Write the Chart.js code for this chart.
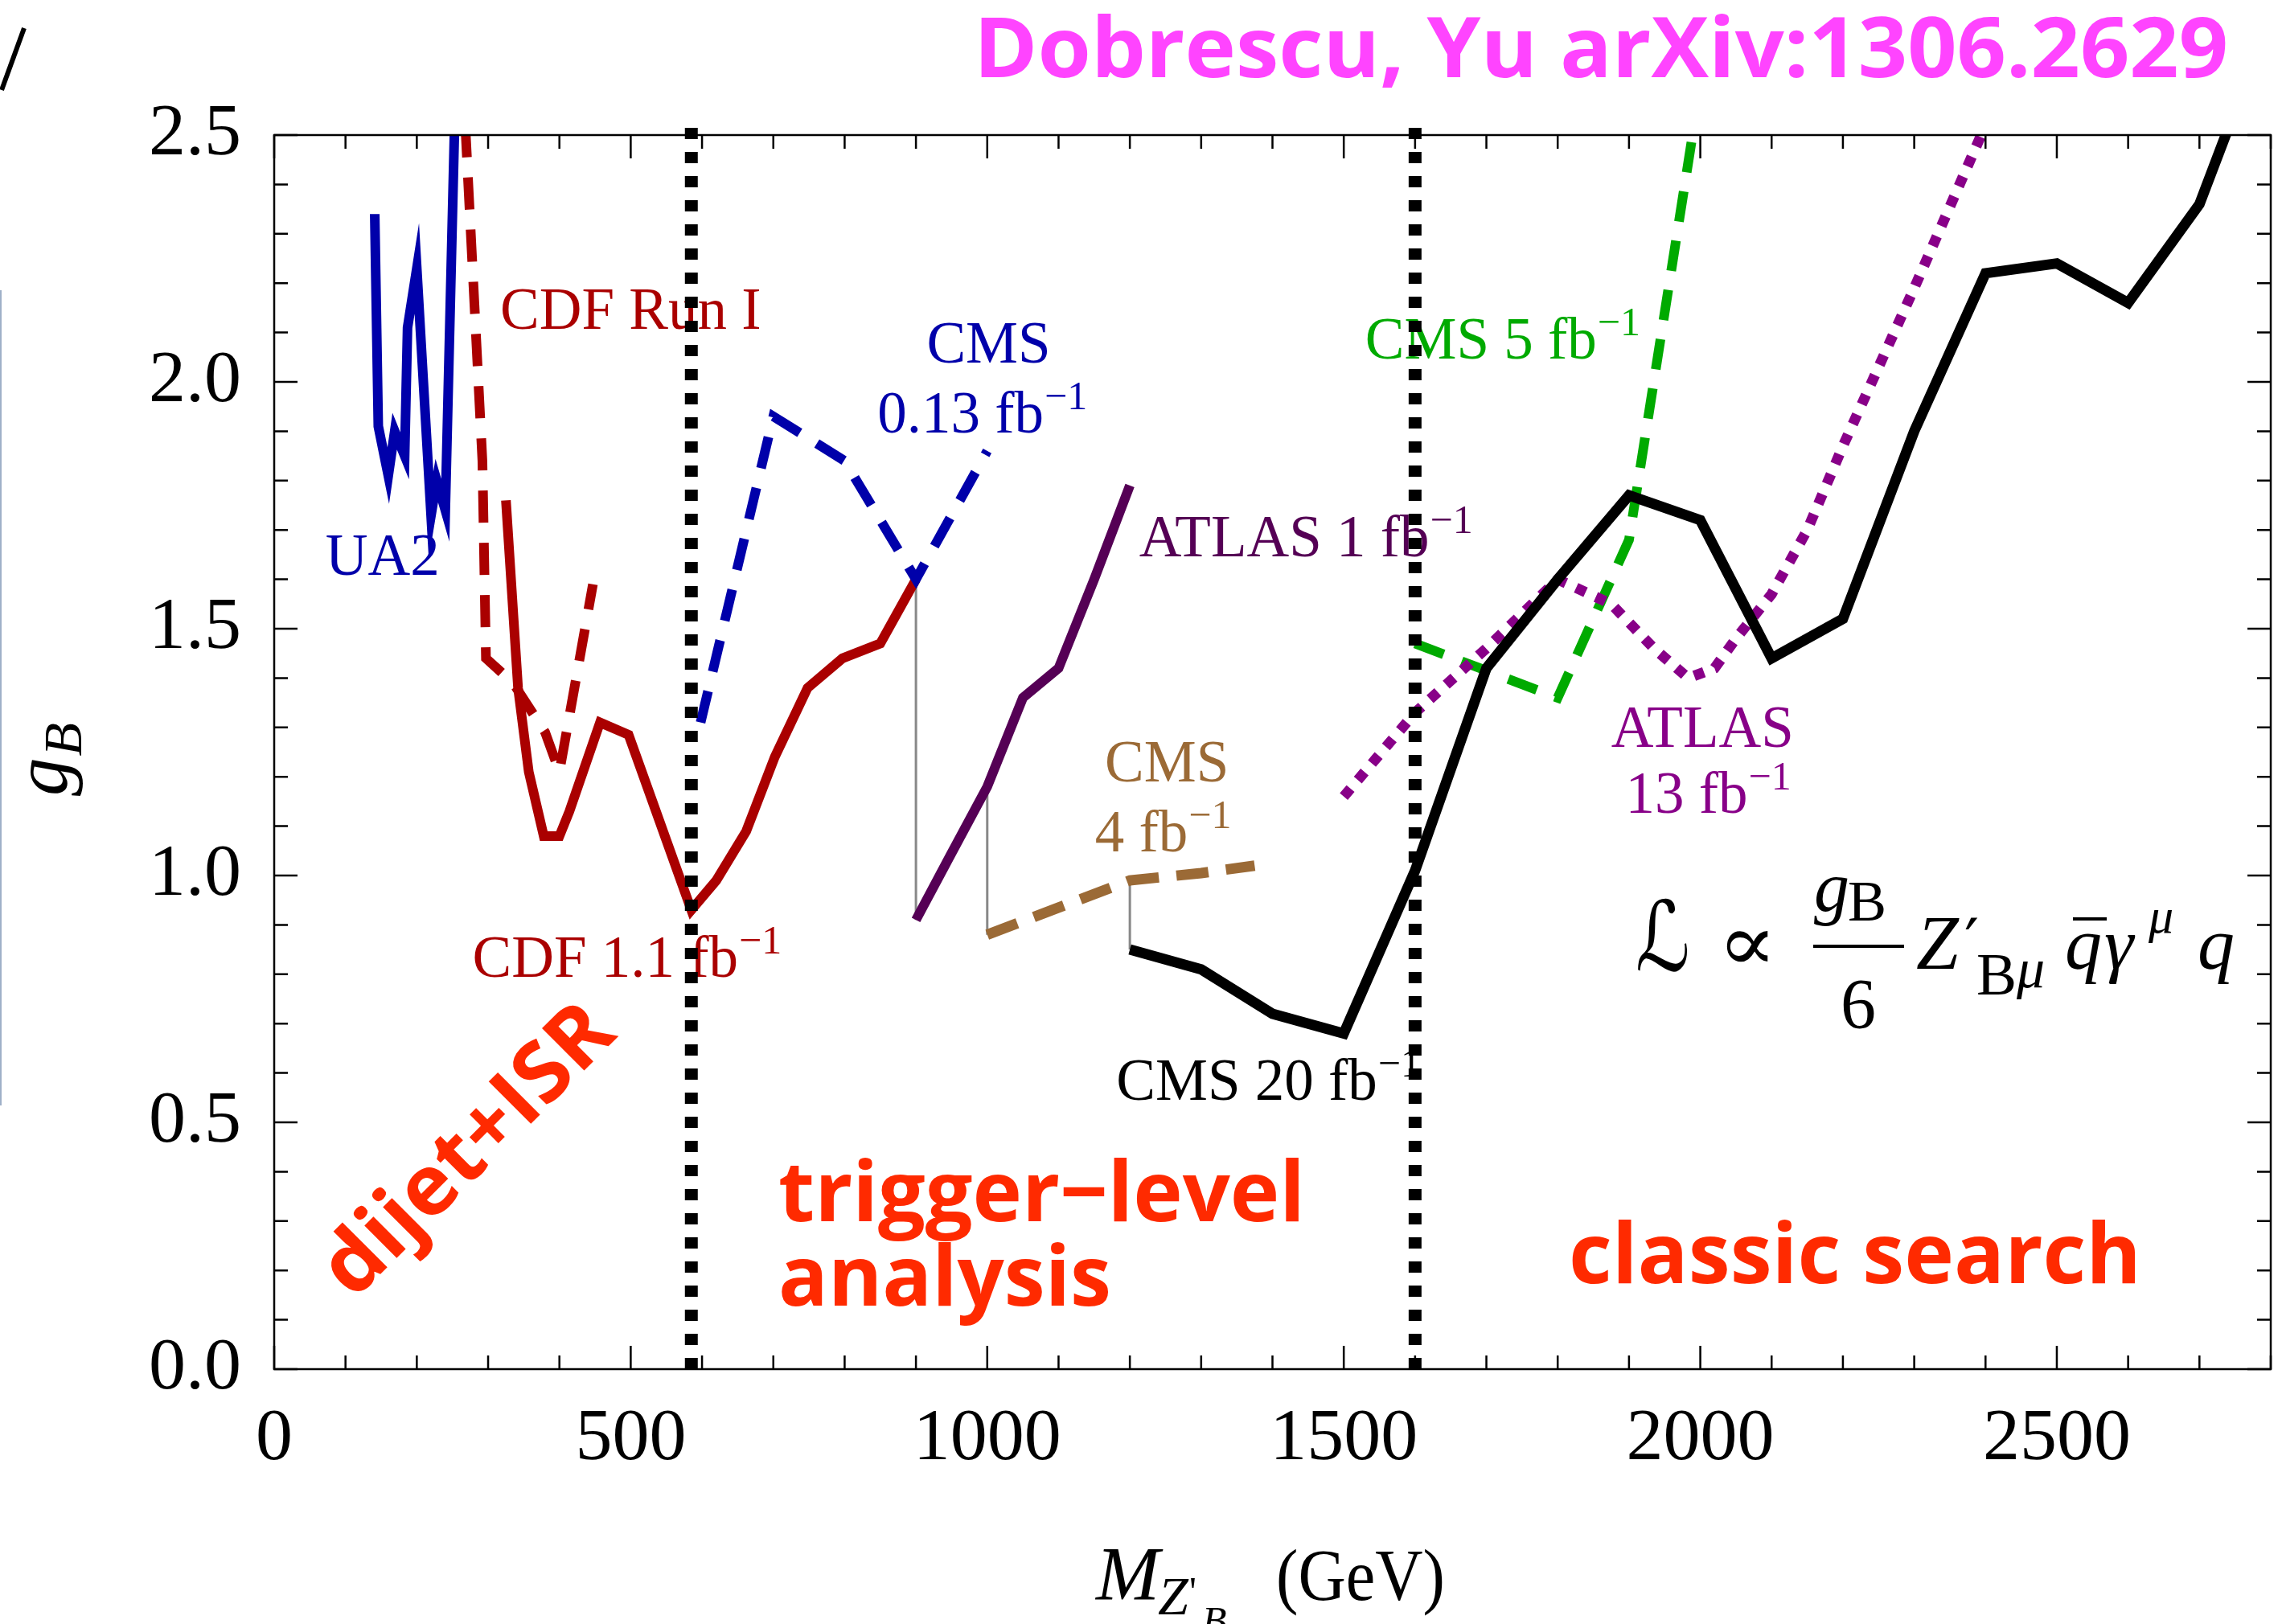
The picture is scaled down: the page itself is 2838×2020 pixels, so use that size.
<!DOCTYPE html>
<html>
<head>
<meta charset="utf-8">
<title>Z'_B coupling limits</title>
<script src="https://cdn.jsdelivr.net/npm/chart.js@4.4.1/dist/chart.umd.min.js"></script>
<style>
  html, body { margin: 0; padding: 0; background: #fff; }
  canvas { display: block; }
</style>
</head>
<body>
<canvas id="limits" width="2838" height="2020"></canvas>
<script>
// limits on g_B vs Z'_B mass, pairs are [mass GeV, g_B]
var ua2 = [[141,2.34],[146,1.91],[160,1.81],[169,1.90],[183,1.85],[187,2.11],[200,2.23],[220,1.73],[228,1.80],[240,1.74],[253,2.52]];
var cdfRun1 = [[268,2.52],[292,1.84],[297,1.44],[335,1.39],[380,1.29],[400,1.21],[447,1.59]];
var cdf11 = [[325,1.76],[342,1.38],[357,1.21],[378,1.08],[400,1.08],[414,1.13],[457,1.31],[497,1.285],[585,0.93],[620,0.99],[662,1.09],[702,1.24],[748,1.38],[797,1.44],[850,1.47],[900,1.60]];
var cms013 = [[598,1.31],[700,1.93],[800,1.84],[900,1.60],[1000,1.86]];
var atlas1 = [[900,0.91],[948,1.04],[1000,1.18],[1050,1.36],[1100,1.42],[1150,1.60],[1200,1.79]];
var cms4 = [[1000,0.88],[1100,0.935],[1200,0.99],[1300,1.005],[1375,1.02]];
var cms20 = [[1200,0.85],[1300,0.81],[1400,0.72],[1500,0.68],[1600,1.01],[1700,1.42],[1800,1.60],[1900,1.77],[2000,1.72],[2100,1.44],[2200,1.52],[2300,1.90],[2400,2.22],[2500,2.24],[2600,2.16],[2700,2.36],[2750,2.55]];
var cms5 = [[1600,1.47],[1700,1.415],[1800,1.36],[1900,1.68],[2000,2.60]];
var atlas13 = [[1500,1.16],[1600,1.33],[1700,1.46],[1800,1.60],[1875,1.55],[1935,1.46],[1983,1.40],[2020,1.42],[2050,1.48],[2100,1.57],[2150,1.70],[2200,1.87],[2300,2.19],[2400,2.52]];

// search regions are split at these masses
var regionEdges = [585, 1600];
// thin grey joins between neighbouring limits
var connectorMasses = [900, 1000, 1200];
var connectorCurves = [[cdf11, atlas1], [atlas1, cms4], [cms4, cms20]];

var xTicks = [0, 500, 1000, 1500, 2000, 2500];
var yTicks = [0, 0.5, 1.0, 1.5, 2.0, 2.5];

var serif = "'Liberation Serif', 'Times New Roman', Times, serif";
var sans = "'Open Sans', 'Liberation Sans', sans-serif";

// labels next to the curves, placed in data coords (left edge, baseline)
var curveLabels = [
  { text: 'CDF Run I', at: [317, 2.108], color: '#aa0000' },
  { text: 'UA2', at: [72, 1.609], color: '#0000aa' },
  { text: 'CMS', at: [915, 2.039], color: '#0000aa' },
  { text: '0.13 fb', sup: '\u22121', at: [846, 1.897], color: '#0000aa' },
  { text: 'ATLAS 1 fb', sup: '\u22121', at: [1213, 1.647], color: '#550055' },
  { text: 'CMS 5 fb', sup: '\u22121', at: [1530, 2.047], color: '#00aa00' },
  { text: 'CMS', at: [1165, 1.19], color: '#9b6a36' },
  { text: '4 fb', sup: '\u22121', at: [1151, 1.049], color: '#9b6a36' },
  { text: 'ATLAS', at: [1875, 1.26], color: '#880088' },
  { text: '13 fb', sup: '\u22121', at: [1895, 1.127], color: '#880088' },
  { text: 'CMS 20 fb', sup: '\u22121', at: [1181, 0.546], color: '#000000' },
  { text: 'CDF 1.1 fb', sup: '\u22121', at: [278, 0.795], color: '#aa0000' }
];

function series(pairs) {
  return pairs.map(function (p) { return { x: p[0], y: p[1] }; });
}

function line(pairs, color, width, dash) {
  return {
    data: series(pairs),
    borderColor: color,
    borderWidth: width,
    borderDash: dash || [],
    borderCapStyle: 'butt',
    borderJoinStyle: 'miter',
    pointRadius: 0,
    fill: false,
    tension: 0
  };
}

function valueAt(pairs, m) {
  for (var i = 0; i < pairs.length; i++) {
    if (pairs[i][0] === m) return pairs[i][1];
  }
  return null;
}

// draw text, optionally squeezed to a given width
function putText(ctx, str, x, y, font, color, width, align) {
  ctx.save();
  ctx.font = font;
  ctx.fillStyle = color;
  ctx.textBaseline = 'alphabetic';
  ctx.textAlign = align || 'left';
  var w = ctx.measureText(str).width;
  var sx = width ? width / w : 1;
  ctx.translate(x, y);
  ctx.scale(sx, 1);
  ctx.fillText(str, 0, 0);
  ctx.restore();
  return w * sx;
}

var datasets = [];
regionEdges.forEach(function (m) {
  var d = line([[m, 0], [m, 2.54]], '#000000', 16, [14, 16]);
  d.clip = false;
  datasets.push(d);
});
datasets.push(line(cms20, '#000000', 13));
datasets.push(line(atlas13, '#880088', 13, [13, 14]));
datasets.push(line(cms5, '#00aa00', 12, [38, 24]));
datasets.push(line(cms4, '#9b6a36', 13, [40, 22]));
datasets.push(line(atlas1, '#550055', 12));
datasets.push(line(cms013, '#0000aa', 12, [40, 25]));
datasets.push(line(cdf11, '#aa0000', 12));
datasets.push(line(cdfRun1, '#aa0000', 12, [40, 25]));
datasets.push(line(ua2, '#0000aa', 12));
connectorMasses.forEach(function (m, i) {
  var top = valueAt(connectorCurves[i][0], m);
  var bottom = valueAt(connectorCurves[i][1], m);
  datasets.push(line([[m, top], [m, bottom]], '#888888', 3));
});

var labelsPlugin = {
  id: 'labels',
  beforeDatasetsDraw: function (chart) {
    var ctx = chart.ctx, xs = chart.scales.x, ys = chart.scales.y;
    curveLabels.forEach(function (l) {
      var px = xs.getPixelForValue(l.at[0]);
      var py = ys.getPixelForValue(l.at[1]);
      var w = putText(ctx, l.text, px, py, '73px ' + serif, l.color);
      if (l.sup) putText(ctx, l.sup, px + w + 1, py - 29, '50px ' + serif, l.color);
    });

    // analysis regions
    var red = '#ff2a00';
    var big = 'bold 104px ' + sans;
    putText(ctx, 'trigger\u2212level', 968, 1519, big, red, 655);
    putText(ctx, 'analysis', 968, 1624, big, red, 414);
    putText(ctx, 'classic search', 1951, 1596, big, red, 712);
    ctx.save();
    ctx.translate(440, 1618);
    ctx.rotate(-Math.PI / 4);
    putText(ctx, 'dijet+ISR', 0, 0, big, red, 466);
    ctx.restore();
  }
};

var framePlugin = {
  id: 'frame',
  afterDraw: function (chart) {
    var ctx = chart.ctx, a = chart.chartArea;
    var xs = chart.scales.x, ys = chart.scales.y;
    ctx.save();
    ctx.strokeStyle = '#000';
    ctx.lineWidth = 2.5;
    ctx.strokeRect(a.left, a.top, a.right - a.left, a.bottom - a.top);

    // inward ticks on all four sides
    ctx.beginPath();
    var v, p, len;
    for (v = 0; v <= 2800; v += 100) {
      p = xs.getPixelForValue(v);
      len = v % 500 === 0 ? 29 : 17;
      ctx.moveTo(p, a.bottom); ctx.lineTo(p, a.bottom - len);
      ctx.moveTo(p, a.top); ctx.lineTo(p, a.top + len);
    }
    for (var k = 0; k <= 25; k++) {
      p = ys.getPixelForValue(k / 10);
      len = k % 5 === 0 ? 29 : 17;
      ctx.moveTo(a.left, p); ctx.lineTo(a.left + len, p);
      ctx.moveTo(a.right, p); ctx.lineTo(a.right - len, p);
    }
    ctx.stroke();
    ctx.restore();

    // title
    putText(ctx, 'Dobrescu, Yu arXiv:1306.2629', 1211, 96, 'bold 104px ' + sans, '#ff44ff', 1560);

    // x axis title
    putText(ctx, 'M', 1363, 1990, 'italic 95px ' + serif, '#000');
    putText(ctx, 'Z', 1440, 2008, 'italic 68px ' + serif, '#000');
    putText(ctx, "'", 1479, 1996, '50px ' + serif, '#000');
    putText(ctx, 'B', 1495, 2033, 'italic 50px ' + serif, '#000');
    putText(ctx, '(GeV)', 1587, 1990, '92px ' + serif, '#000', 210);

    // y axis title
    ctx.save();
    ctx.translate(83, 990);
    ctx.rotate(-Math.PI / 2);
    var gw = putText(ctx, 'g', 0, 0, 'italic 95px ' + serif, '#000');
    putText(ctx, 'B', gw + 2, 18, 'italic 68px ' + serif, '#000');
    ctx.restore();

    // Lagrangian
    putText(ctx, '\u2112', 2034, 1207, "italic 120px 'DejaVu Serif', 'DejaVu Sans', serif", '#000', 68);
    putText(ctx, '\u221D', 2136, 1207, "100px 'DejaVu Serif', 'DejaVu Sans', serif", '#000', 74);
    putText(ctx, 'g', 2256, 1133, 'italic 88px ' + serif, '#000');
    putText(ctx, 'B', 2298, 1145, '72px ' + serif, '#000');
    ctx.fillStyle = '#000';
    ctx.fillRect(2255, 1175, 113, 4);
    putText(ctx, '6', 2311, 1278, '88px ' + serif, '#000', 0, 'center');
    putText(ctx, 'Z', 2383, 1205, 'italic 95px ' + serif, '#000');
    putText(ctx, '\u2032', 2443, 1200, "80px 'DejaVu Serif', 'DejaVu Sans', serif", '#000');
    putText(ctx, 'B', 2458, 1237, '75px ' + serif, '#000');
    putText(ctx, '\u03bc', 2508, 1228, 'italic 70px ' + serif, '#000');
    putText(ctx, 'q', 2568, 1205, 'italic 92px ' + serif, '#000');
    ctx.fillRect(2578, 1141, 42, 4);
    putText(ctx, '\u03b3', 2617, 1205, 'italic 92px ' + serif, '#000');
    putText(ctx, '\u03bc', 2672, 1160, 'italic 62px ' + serif, '#000');
    putText(ctx, 'q', 2733, 1205, 'italic 92px ' + serif, '#000');

    // stray marks at the left edge
    ctx.save();
    ctx.strokeStyle = '#000';
    ctx.lineWidth = 6;
    ctx.beginPath();
    ctx.moveTo(30, 35); ctx.lineTo(2, 112);
    ctx.stroke();
    ctx.strokeStyle = '#9fb0c8';
    ctx.lineWidth = 2;
    ctx.beginPath();
    ctx.moveTo(1, 361); ctx.lineTo(1, 1375);
    ctx.stroke();
    ctx.restore();
  }
};

var tickFont = { family: serif, size: 92 };

new Chart(document.getElementById('limits'), {
  type: 'line',
  data: { datasets: datasets },
  options: {
    responsive: false,
    animation: false,
    devicePixelRatio: 1,
    layout: { padding: { top: 168, right: 14, left: 0, bottom: 0 } },
    plugins: { legend: { display: false }, tooltip: { enabled: false } },
    scales: {
      x: {
        type: 'linear',
        min: 0,
        max: 2800,
        grid: { display: false, drawTicks: false },
        border: { display: false },
        afterBuildTicks: function (s) { s.ticks = xTicks.map(function (v) { return { value: v }; }); },
        afterFit: function (s) { s.height = 317; },
        ticks: {
          font: tickFont, color: '#000', padding: 33, maxRotation: 0, autoSkip: false,
          callback: function (v) { return String(v); }
        }
      },
      y: {
        type: 'linear',
        min: 0,
        max: 2.5,
        grid: { display: false, drawTicks: false },
        border: { display: false },
        afterBuildTicks: function (s) { s.ticks = yTicks.map(function (v) { return { value: v }; }); },
        afterFit: function (s) { s.width = 341; },
        ticks: {
          font: tickFont, color: '#000', padding: 41, autoSkip: false,
          callback: function (v) { return v.toFixed(1); }
        }
      }
    }
  },
  plugins: [labelsPlugin, framePlugin]
});
</script>
</body>
</html>
